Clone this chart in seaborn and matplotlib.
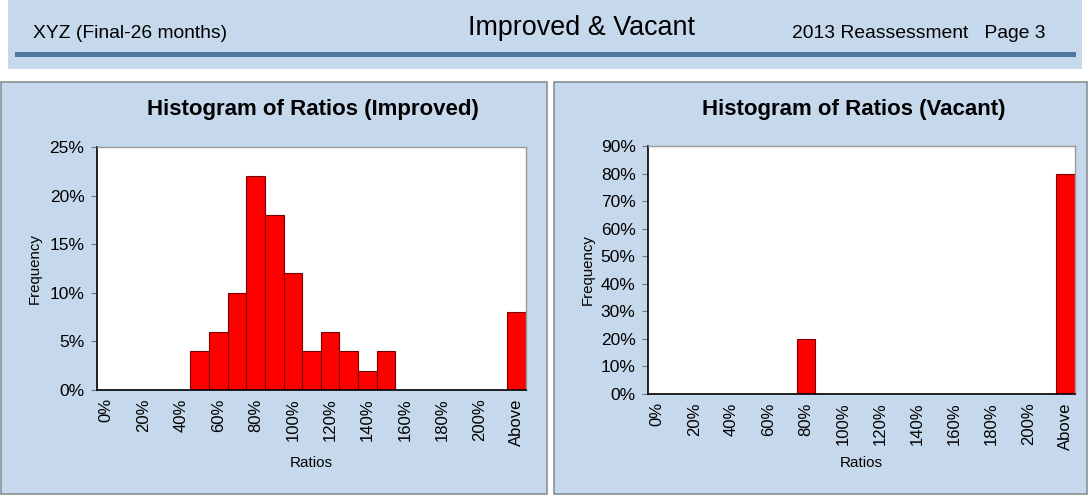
import matplotlib
matplotlib.use("Agg")
import matplotlib.pyplot as plt
from matplotlib.patches import Rectangle
from matplotlib.ticker import PercentFormatter
import seaborn as sns
import pandas as pd

categories = [f"{v}%" for v in range(0, 220, 10)] + ["Above"]
improved = [0, 0, 0, 0, 0, 4, 6, 10, 22, 18, 12, 4, 6, 4, 2, 4, 0, 0, 0, 0, 0, 0, 8]
vacant = [0, 0, 0, 0, 0, 0, 0, 0, 20, 0, 0, 0, 0, 0, 0, 0, 0, 0, 0, 0, 0, 0, 80]
shown_labels = ["0%", "20%", "40%", "60%", "80%", "100%", "120%", "140%",
                "160%", "180%", "200%", "Above"]

header_left = "XYZ (Final-26 months)"
header_center = "Improved & Vacant"
header_right = "2013 Reassessment   Page 3"

sns.set_theme(style="white")
plt.rcParams["font.family"] = ["Liberation Sans", "DejaVu Sans"]
plt.rcParams["text.color"] = "black"
plt.rcParams["axes.labelcolor"] = "black"
plt.rcParams["xtick.color"] = "black"
plt.rcParams["ytick.color"] = "black"

W, H = 1090, 497
fig = plt.figure(figsize=(W / 100, H / 100), dpi=100)
fig.patch.set_facecolor("white")

def box(x0, y0, x1, y1, fc, ec="none", lw=0):
    fig.patches.append(Rectangle((x0 / W, 1 - y1 / H), (x1 - x0) / W, (y1 - y0) / H,
                                 transform=fig.transFigure, facecolor=fc,
                                 edgecolor=ec, linewidth=lw, zorder=-10))

panel_bg = "#c5d8ec"
# header
box(8, 0, 1082, 69, panel_bg)
box(15, 52, 1076, 57, "#50789f")
fig.text(33 / W, 1 - 33 / H, header_left, fontsize=13.9, va="center", ha="left")
fig.text(582 / W, 1 - 28 / H, header_center, fontsize=19.4, va="center", ha="center")
fig.text(1045 / W, 1 - 33 / H, header_right, fontsize=13.9, va="center", ha="right")
# panels
box(1, 82, 547, 494, panel_bg, ec="#8a9096", lw=1.2)
box(554, 82, 1087, 494, panel_bg, ec="#8a9096", lw=1.2)

def draw(ax_rect, values, ymax, ystep, title, tcx, ylab_x):
    x0, y0, x1, y1 = ax_rect
    ax = fig.add_axes([x0 / W, 1 - y1 / H, (x1 - x0) / W, (y1 - y0) / H])
    df = pd.DataFrame({"cat": categories, "val": values})
    sns.barplot(data=df, x="cat", y="val", order=categories, color="#ff0000",
                edgecolor="#7a0000", linewidth=0.8, width=1.0, saturation=1, ax=ax)
    ax.set_facecolor("white")
    ax.set_xlim(-0.5, len(categories) - 0.5)
    ax.set_ylim(0, ymax)
    ax.set_yticks(range(0, ymax + 1, ystep))
    ax.yaxis.set_major_formatter(PercentFormatter(decimals=0))
    ax.set_xticks(list(range(0, 21, 2)) + [22])
    ax.set_xticklabels(shown_labels, rotation=90, fontsize=12)
    ax.tick_params(axis="x", length=0, pad=6)
    ax.tick_params(axis="y", length=4, width=0.8, color="#777777", labelsize=12.5,
                   pad=5, left=True)
    for s in ["left", "bottom"]:
        ax.spines[s].set_color("black")
        ax.spines[s].set_linewidth(1.2)
    for s in ["top", "right"]:
        ax.spines[s].set_color("#9a9a9a")
        ax.spines[s].set_linewidth(1.0)
    ax.set_xlabel("Ratios", fontsize=11, va="center")
    ax.set_ylabel("Frequency", fontsize=10.8, va="center")
    ax.xaxis.set_label_coords(0.5, (y1 - 463) / (y1 - y0))
    ax.yaxis.set_label_coords((ylab_x - x0) / (x1 - x0), 0.5)
    fig.text(tcx / W, 1 - 109 / H, title, fontsize=16, fontweight="bold",
             ha="center", va="center")
    return ax

draw((97, 147, 526, 390), improved, 25, 5, "Histogram of Ratios (Improved)", 313, 35)
draw((648, 146, 1075, 394), vacant, 90, 10, "Histogram of Ratios (Vacant)", 854, 588)

fig.savefig("out.png", dpi=100, facecolor=fig.get_facecolor())
